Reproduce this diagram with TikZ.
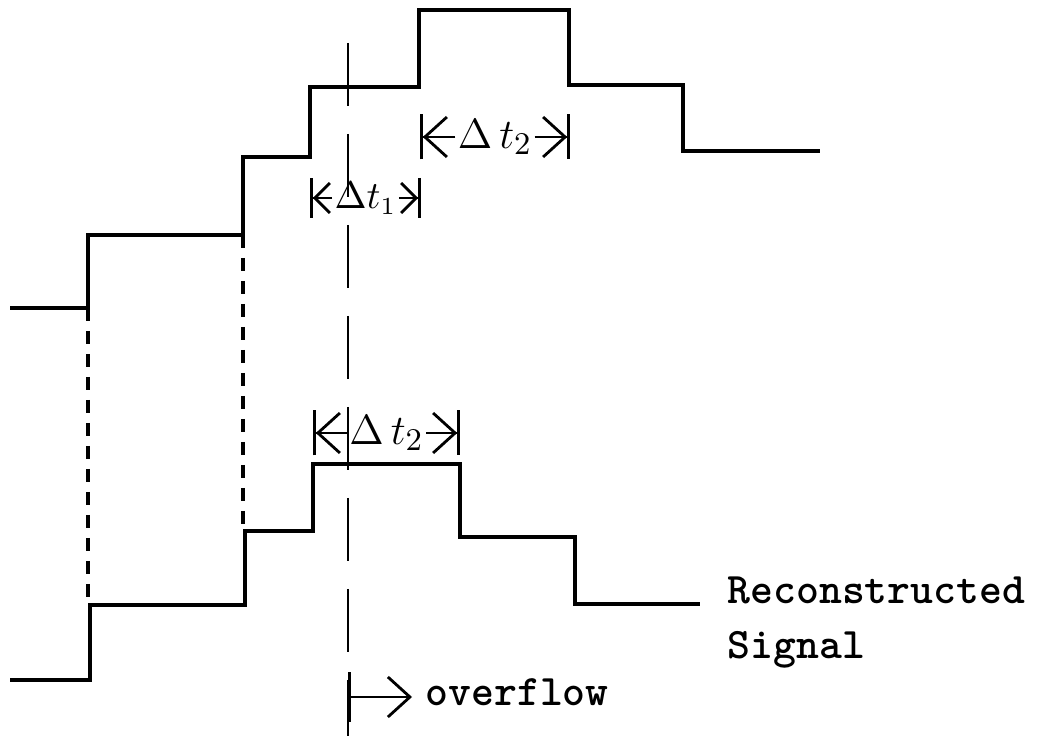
\documentclass[tikz,border=0pt]{standalone}
\usepackage{amsmath}
\usepackage{fontspec}
\usepackage{tikz}
\usetikzlibrary{arrows.meta}
\tikzset{
  signal/.style={line width=0.9pt, line join=miter},
  sample/.style={line width=0.9pt, dash pattern=on 1.3mm off 1mm},
  centre/.style={line width=0.8pt, dash pattern=on 6.3mm off 2.8mm},
  halfdim/.style={line width=0.8pt,
    -{Straight Barb[length=2.2mm,width=4mm]Bar[width=4.5mm]}},
  shortdim/.style={line width=0.8pt,
    -{Straight Barb[length=1.5mm,width=3mm]Bar[width=4mm]}},
  dimlabel/.style={inner sep=0.5pt, font=\fontsize{12.5}{14}\selectfont},
  caption/.style={font=\ttfamily\bfseries\fontsize{12.4}{15.6}\selectfont, inner sep=0pt, anchor=base west}
}

\begin{document}
\begin{tikzpicture}[x=0.1mm, y=-0.1mm]
  \useasboundingbox (0,0) rectangle (1050,736);

  % Original signal
  \draw[signal] (10,308) -- (88,308) -- (88,235) -- (243,235) -- (243,157)
    -- (310,157) -- (310,87) -- (419,87) -- (419,10) -- (569,10) -- (569,85)
    -- (683,85) -- (683,151) -- (820,151);

  % Reconstructed signal
  \draw[signal] (10,680) -- (90,680) -- (90,605) -- (245,605) -- (245,531)
    -- (313,531) -- (313,464) -- (460,464) -- (460,537) -- (575,537)
    -- (575,604) -- (700,604);

  % Sample instants
  \draw[sample] (88,308) -- (88,605);
  \draw[sample] (243,235) -- (243,531);

  % Delays
  \coordinate (d1a) at (310,198);
  \coordinate (d1b) at (421,198);
  \coordinate (d2a) at (420,137);
  \coordinate (d2b) at (570,137);
  \coordinate (d3a) at (313,433);
  \coordinate (d3b) at (460,433);
  \node[inner sep=0.5pt, font=\fontsize{10.5}{12}\selectfont] (dt1) at (365.5,198) {$\Delta t_1$};
  \node[dimlabel] (dt2) at (495,137) {$\Delta\,t_2$};
  \node[dimlabel] (dt3) at (386.5,433) {$\Delta\,t_2$};
  \draw[shortdim] (dt1) -- (d1a);
  \draw[shortdim] (dt1) -- (d1b);
  \draw[halfdim] (dt2) -- (d2a);
  \draw[halfdim] (dt2) -- (d2b);
  \draw[halfdim] (dt3) -- (d3a);
  \draw[halfdim] (dt3) -- (d3b);

  % Overflow instant
  \draw[centre] (348,43) -- (348,736);
  \coordinate (ovf) at (348,697);
  \coordinate (ovfend) at (412,697);
  \draw[line width=0.8pt, {Bar[width=5mm]}-{Straight Barb[length=2.2mm,width=4mm]}] (ovf) -- (ovfend);
  \node[caption] (overflow) at (425,705) {overflow};

  % Label
  \node[caption] (recon) at (727,603) {Reconstructed};
  \node[caption] (signal) at (727,658) {Signal};
\end{tikzpicture}
\end{document}
